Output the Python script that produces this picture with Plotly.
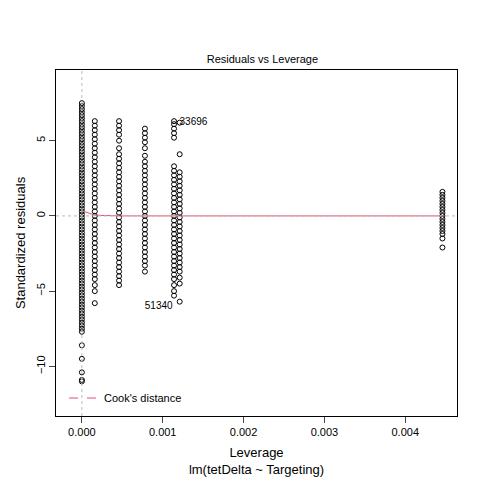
import plotly.graph_objects as go

title = "Residuals vs Leverage"
x_title = "Leverage"
sub_title = "lm(tetDelta ~ Targeting)"

# leverage of each column of points
lev = [0.0000, 0.00016, 0.00046, 0.00078, 0.00114, 0.00121, 0.00446]

# standardized residuals
res = [
    [7.5, 7.3, 7.1, 6.9, 6.7, 6.5, 6.3, 6.1, 5.9, 5.7, 5.5, 5.3, 5.1, 4.9, 4.7, 4.5, 4.3, 4.1, 3.9, 3.7,
     3.5, 3.3, 3.1, 2.9, 2.7, 2.5, 2.3, 2.1, 1.9, 1.7, 1.5, 1.3, 1.1, 0.9, 0.7, 0.5, 0.3, 0.1, -0.1,
     -0.3, -0.5, -0.7, -0.9, -1.1, -1.3, -1.5, -1.7, -1.9, -2.1, -2.3, -2.5, -2.7, -2.9, -3.1, -3.3,
     -3.5, -3.7, -3.9, -4.1, -4.3, -4.5, -4.7, -4.9, -5.1, -5.3, -5.5, -5.7, -5.9, -6.1, -6.3, -6.5,
     -6.7, -6.9, -7.1, -7.3, -7.5, -7.7, -8.6, -9.5, -10.4, -10.9, -11.0],
    [6.3, 6.0, 5.7, 5.4, 5.1, 4.8, 4.5, 4.2, 3.9, 3.6, 3.3, 3.0, 2.7, 2.4, 2.1, 1.8, 1.5, 1.2, 0.9,
     0.6, 0.3, 0.0, -0.3, -0.6, -0.9, -1.2, -1.5, -1.8, -2.1, -2.4, -2.7, -3.0, -3.3, -3.6, -3.9,
     -4.2, -4.6, -5.0, -5.8],
    [6.3, 6.0, 5.7, 5.4, 5.0, 4.5, 4.1, 3.8, 3.5, 3.2, 2.9, 2.6, 2.3, 2.0, 1.7, 1.4, 1.1, 0.8, 0.5,
     0.2, -0.1, -0.4, -0.7, -1.0, -1.3, -1.6, -1.9, -2.2, -2.5, -2.8, -3.1, -3.4, -3.7, -4.0, -4.3,
     -4.6],
    [5.8, 5.5, 5.2, 4.9, 4.5, 4.0, 3.6, 3.3, 3.0, 2.7, 2.4, 2.1, 1.8, 1.5, 1.2, 0.9, 0.6, 0.3, 0.0,
     -0.3, -0.6, -0.9, -1.2, -1.5, -1.8, -2.1, -2.4, -2.7, -3.0, -3.3, -3.7],
    [6.3, 6.1, 5.8, 5.5, 5.2, 3.3, 3.0, 2.7, 2.4, 2.1, 1.8, 1.5, 1.2, 0.9, 0.6, 0.3, 0.0, -0.3, -0.6,
     -0.9, -1.2, -1.5, -1.8, -2.1, -2.4, -2.7, -3.0, -3.3, -3.6, -3.9, -4.2, -4.6, -5.0, -5.3],
    [6.2, 4.1, 2.9, 2.6, 2.3, 2.0, 1.7, 1.4, 1.1, 0.8, 0.5, 0.2, -0.1, -0.4, -0.7, -1.0, -1.3, -1.6,
     -1.9, -2.2, -2.5, -2.8, -3.1, -3.4, -3.7, -4.1, -4.5, -5.7],
    [1.6, 1.4, 1.2, 1.0, 0.8, 0.6, 0.4, 0.2, 0.0, -0.2, -0.4, -0.6, -0.8, -1.0, -1.2, -1.5, -2.1],
]

labels = ["33696", "51340"]
label_x = [0.00138, 0.00095]
label_y = [6.2, -6.0]

smooth_x = [0.0000, 0.00016, 0.00046, 0.00078, 0.00121, 0.00446]
smooth_y = [0.35, 0.05, 0.0, 0.0, 0.0, 0.0]

xs, ys = [], []
for l, r in zip(lev, res):
    xs += [l] * len(r)
    ys += r

fig = go.Figure()
fig.add_trace(go.Scatter(x=xs, y=ys, mode='markers', showlegend=False,
                         marker=dict(symbol='circle-open', size=5, color='black', line=dict(width=1))))
fig.add_trace(go.Scatter(x=smooth_x, y=smooth_y, mode='lines', showlegend=False,
                         line=dict(color='#DF536B', width=1)))
fig.add_trace(go.Scatter(x=[None], y=[None], mode='lines', name="Cook's distance",
                         line=dict(color='#DF536B', width=1, dash='dash')))
fig.add_trace(go.Scatter(x=label_x, y=label_y, mode='text', text=labels, showlegend=False,
                         textfont=dict(size=10, color='black')))

fig.add_hline(y=0, line=dict(color='#bbbbbb', width=1, dash='dot'))
fig.add_vline(x=0, line=dict(color='#bbbbbb', width=1, dash='dot'))

fig.update_layout(
    width=480, height=480,
    font=dict(family='Liberation Sans, Arial', size=11, color='black'),
    paper_bgcolor='white', plot_bgcolor='white',
    margin=dict(l=48, r=31, t=62, b=72),
    title=dict(text=title, x=0.53, xanchor='center', y=0.885, yanchor='bottom', font=dict(size=11)),
    legend=dict(x=0.02, y=0.01, xanchor='left', yanchor='bottom', bgcolor='rgba(0,0,0,0)'),
)
fig.update_xaxes(range=[-0.00032, 0.00464], tickvals=[0, 0.001, 0.002, 0.003, 0.004],
                 ticktext=['0.000', '0.001', '0.002', '0.003', '0.004'],
                 showgrid=False, zeroline=False, showline=True, mirror=True, linecolor='black',
                 ticks='outside', ticklen=6,
                 title=dict(text=x_title + '<br>' + sub_title, standoff=10))
fig.update_yaxes(range=[-13.3, 9.7], tickvals=[-10, -5, 0, 5], tickangle=-90,
                 showgrid=False, zeroline=False, showline=True, mirror=True, linecolor='black',
                 ticks='outside', ticklen=6,
                 title=dict(text='Standardized residuals', standoff=6))

fig.write_html("out.html")
